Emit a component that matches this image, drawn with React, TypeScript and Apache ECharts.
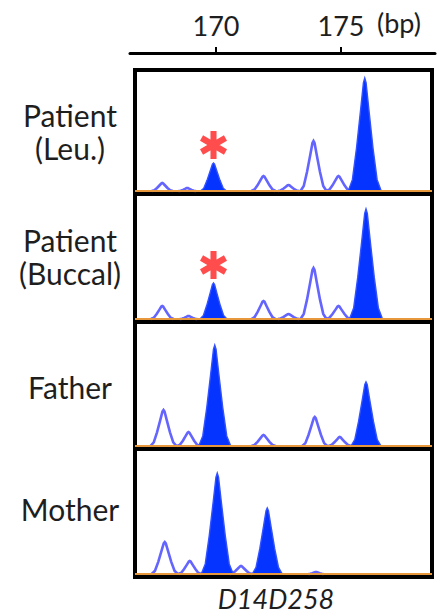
import { useEffect, useRef } from "react";
import * as echarts from "echarts";

// ---- data ----
const TICK_VALUES = [170, 175];
const AXIS_UNIT = "(bp)";
const MARKER_NAME = "D14D258";
const SAMPLE_LABELS = ["Patient\n(Leu.)", "Patient\n(Buccal)", "Father", "Mother"];

// peaks: [size (bp), height (rfu-like units), half width (bp)]
const LEU_STUTTER = [
  [167.85, 8, 0.42],
  [168.85, 3, 0.35],
  [171.9, 15, 0.48],
  [172.9, 6, 0.42],
  [173.9, 50, 0.52],
  [174.9, 15, 0.48],
];
const LEU_ALLELES = [
  [169.9, 28, 0.52],
  [175.95, 113, 0.66],
];
const BUCCAL_STUTTER = [
  [167.85, 13, 0.45],
  [168.9, 3, 0.35],
  [171.9, 18, 0.48],
  [172.9, 5, 0.42],
  [173.9, 51, 0.52],
  [174.9, 13, 0.48],
];
const BUCCAL_ALLELES = [
  [169.9, 36, 0.54],
  [176.0, 110, 0.66],
];
const FATHER_STUTTER = [
  [167.9, 36, 0.52],
  [168.9, 14, 0.45],
  [171.9, 11, 0.48],
  [173.95, 29, 0.5],
  [174.95, 9, 0.45],
];
const FATHER_ALLELES = [
  [169.95, 101, 0.64],
  [176.0, 64, 0.6],
];
const MOTHER_STUTTER = [
  [167.95, 32, 0.52],
  [168.95, 13, 0.45],
  [171.0, 8, 0.45],
  [174.0, 2, 0.3],
];
const MOTHER_ALLELES = [
  [170.05, 101, 0.64],
  [172.05, 66, 0.6],
];
const STUTTER = [LEU_STUTTER, BUCCAL_STUTTER, FATHER_STUTTER, MOTHER_STUTTER];
const ALLELES = [LEU_ALLELES, BUCCAL_ALLELES, FATHER_ALLELES, MOTHER_ALLELES];
// allele peak flagged with an asterisk (per panel)
const FLAGGED = [[[169.9, 28]], [[169.9, 36]], [], []];

// ---- layout / style ----
const PANEL_LEFT = 135;
const PANEL_WIDTH = 297;
const PANEL_X_MIN = 166.76;
const PANEL_X_MAX = 178.64;
const PANEL_TOPS = [70, 194, 322, 449];
const PANEL_HEIGHTS = [124, 128, 127, 128];
const BASE_OFFSET = 3;
const LABEL_Y = [131, 256, 387, 509];

const PEAK_SHAPE = [
  [-1, 0],
  [-0.75, 0.1],
  [-0.5, 0.38],
  [-0.25, 0.72],
  [-0.08, 0.96],
  [0, 1],
  [0.08, 0.96],
  [0.25, 0.72],
  [0.5, 0.38],
  [0.75, 0.1],
  [1, 0],
];

const ASTERISK =
  "path://M39,0L61,0L61,100L39,100Z M87.8,15.47L98.8,34.53L12.2,84.53L1.2,65.47Z M98.8,65.47L87.8,84.53L1.2,34.53L12.2,15.47Z";

function peakRenderer(filled: boolean) {
  return (_params: any, api: any) => {
    const c = api.value(0);
    const h = api.value(1);
    const w = api.value(2);
    const pts = PEAK_SHAPE.map(([fx, fy]) => api.coord([c + fx * w, fy * h]));
    if (filled) {
      return {
        type: "polygon",
        shape: { points: pts },
        style: { fill: "#0533ff", stroke: "#3352ff", lineWidth: 1.4 },
      };
    }
    return {
      type: "polyline",
      shape: { points: pts },
      style: { stroke: "#6464ff", lineWidth: 2.6, fill: null },
    };
  };
}

export default function App() {
  const ref = useRef<HTMLDivElement>(null);
  useEffect(() => {
    if (!ref.current) return;
    const chart = echarts.init(ref.current, undefined, { renderer: "svg" });

    const grids: any[] = [];
    const xAxes: any[] = [];
    const yAxes: any[] = [];
    const series: any[] = [];

    PANEL_TOPS.forEach((top, i) => {
      grids.push({
        left: PANEL_LEFT,
        top,
        width: PANEL_WIDTH,
        height: PANEL_HEIGHTS[i],
        show: true,
        borderColor: "#000",
        borderWidth: 4,
        backgroundColor: "#fff",
      });
      xAxes.push({
        type: "value",
        gridIndex: i,
        min: PANEL_X_MIN,
        max: PANEL_X_MAX,
        show: false,
      });
      yAxes.push({
        type: "value",
        gridIndex: i,
        min: -BASE_OFFSET,
        max: PANEL_HEIGHTS[i] - BASE_OFFSET,
        show: false,
      });
      series.push({
        type: "custom",
        xAxisIndex: i,
        yAxisIndex: i,
        renderItem: peakRenderer(false),
        data: STUTTER[i],
        clip: true,
        z: 2,
      });
      series.push({
        type: "custom",
        xAxisIndex: i,
        yAxisIndex: i,
        renderItem: peakRenderer(true),
        data: ALLELES[i],
        clip: true,
        z: 3,
      });
      series.push({
        type: "line",
        xAxisIndex: i,
        yAxisIndex: i,
        data: [
          [PANEL_X_MIN, 0],
          [PANEL_X_MAX, 0],
        ],
        symbol: "none",
        lineStyle: { color: "#e8983c", width: 2 },
        z: 4,
      });
      if (FLAGGED[i].length) {
        series.push({
          type: "scatter",
          xAxisIndex: i,
          yAxisIndex: i,
          data: FLAGGED[i],
          symbol: ASTERISK,
          symbolSize: [27, 28],
          symbolOffset: [0, -18],
          itemStyle: { color: "#ff2020" },
          z: 5,
        });
      }
    });

    // top bp axis
    const ti = PANEL_TOPS.length;
    grids.push({ left: 130, top: 52, width: 305, height: 1, show: false });
    xAxes.push({
      type: "value",
      gridIndex: ti,
      position: "top",
      min: 166.56,
      max: 178.76,
      axisLine: { show: true, lineStyle: { color: "#000", width: 3 } },
      axisTick: {
        show: true,
        customValues: TICK_VALUES,
        length: 6,
        lineStyle: { color: "#000", width: 2 },
      },
      axisLabel: {
        show: true,
        customValues: TICK_VALUES,
        fontSize: 27,
        fontFamily: "Lato",
        color: "#1e1e1e",
        margin: 13,
      },
      splitLine: { show: false },
    });
    yAxes.push({ type: "value", gridIndex: ti, show: false });

    const graphic: any[] = [
      {
        type: "text",
        left: 377,
        top: 9,
        style: {
          text: AXIS_UNIT,
          fontSize: 27,
          fontFamily: "Lato",
          fill: "#1e1e1e",
        },
      },
      {
        type: "text",
        x: 276,
        y: 598,
        style: {
          text: MARKER_NAME,
          textAlign: "center",
          textVerticalAlign: "middle",
          fontSize: 27,
          fontStyle: "italic",
          fontFamily: "Lato",
          fill: "#1e1e1e",
        },
      },
    ];
    SAMPLE_LABELS.forEach((label, i) => {
      graphic.push({
        type: "text",
        x: 70,
        y: LABEL_Y[i],
        style: {
          text: label,
          textAlign: "center",
          textVerticalAlign: "middle",
          fontSize: 30,
          lineHeight: 33,
          fontFamily: "Lato",
          fill: "#1e1e1e",
        },
      });
    });

    chart.setOption({
      animation: false,
      backgroundColor: "#fff",
      grid: grids,
      xAxis: xAxes,
      yAxis: yAxes,
      series,
      graphic,
    });
    return () => chart.dispose();
  }, []);

  return (
    <div
      ref={ref}
      style={{ position: "fixed", left: 0, top: 0, width: 446, height: 614 }}
    />
  );
}
